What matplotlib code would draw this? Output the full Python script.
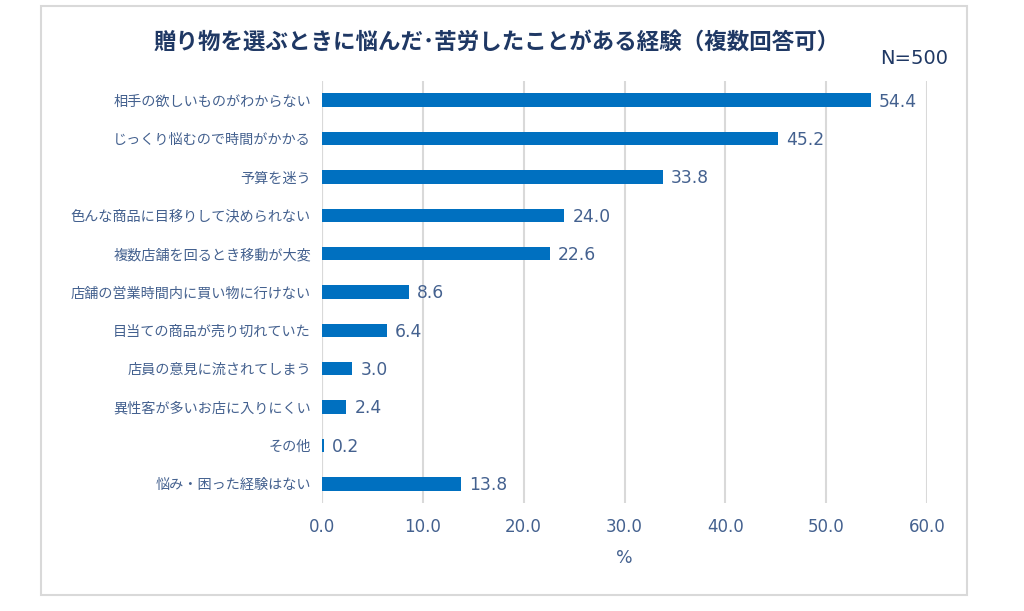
import matplotlib
matplotlib.use("Agg")
import matplotlib.pyplot as plt
from matplotlib.patches import Rectangle

categories = [
    "相手の欲しいものがわからない",
    "じっくり悩むので時間がかかる",
    "予算を迷う",
    "色んな商品に目移りして決められない",
    "複数店舗を回るとき移動が大変",
    "店舗の営業時間内に買い物に行けない",
    "目当ての商品が売り切れていた",
    "店員の意見に流されてしまう",
    "異性客が多いお店に入りにくい",
    "その他",
    "悩み・困った経験はない",
]
values = [54.4, 45.2, 33.8, 24.0, 22.6, 8.6, 6.4, 3.0, 2.4, 0.2, 13.8]
xticks = [0, 10, 20, 30, 40, 50, 60]
title = "贈り物を選ぶときに悩んだ･苦労したことがある経験（複数回答可）"
note = "N=500"
xlabel = "%"

JP = ["Noto Sans CJK JP", "DejaVu Sans"]
bar_color = "#0070C0"
text_color = "#44618F"
title_color = "#1F3864"
grid_color = "#D9D9D9"

fig = plt.figure(figsize=(10.24, 6.11), dpi=100)
fig.patches.append(Rectangle((41/1024, 1-595/611), (967-41)/1024, (595-6)/611,
                             transform=fig.transFigure, fill=False,
                             edgecolor=grid_color, linewidth=1.5))

ax = fig.add_axes([322/1024, 1-503/611, (927-322)/1024, (503-81)/611])
y = list(range(len(categories)))
ax.barh(y, values, height=0.35, color=bar_color, zorder=3)
ax.set_ylim(len(categories)-0.5, -0.5)
ax.set_xlim(0, 60)
ax.set_xticks(xticks)
ax.set_xticklabels([f"{t:.1f}" for t in xticks], fontsize=12, color=text_color,
                   family="DejaVu Sans")
ax.set_yticks(y)
ax.set_yticklabels(categories, fontsize=10.2, color=text_color, family=JP)
ax.tick_params(axis="both", length=0)
ax.tick_params(axis="x", pad=11)
ax.tick_params(axis="y", pad=8)
ax.xaxis.grid(True, color=grid_color, linewidth=1.5, zorder=0)
for s in ax.spines.values():
    s.set_visible(False)
ax.axvline(0, color=grid_color, linewidth=1.5, zorder=1)

for yi, v in zip(y, values):
    ax.annotate(f"{v:.1f}", (v, yi), xytext=(6, -1), textcoords="offset points",
                va="center", ha="left", fontsize=12.3, color=text_color,
                family="DejaVu Sans")

ax.set_xlabel(xlabel, fontsize=12.5, color=text_color, family="DejaVu Sans", labelpad=9)

fig.text(497/1024, 1-42/611, title, ha="center", va="center", fontsize=16.2,
         fontweight="bold", color=title_color, family=JP)
fig.text(948/1024, 1-58/611, note, ha="right", va="center", fontsize=14,
         color=title_color, family="DejaVu Sans")

fig.savefig("out.png", dpi=100)
